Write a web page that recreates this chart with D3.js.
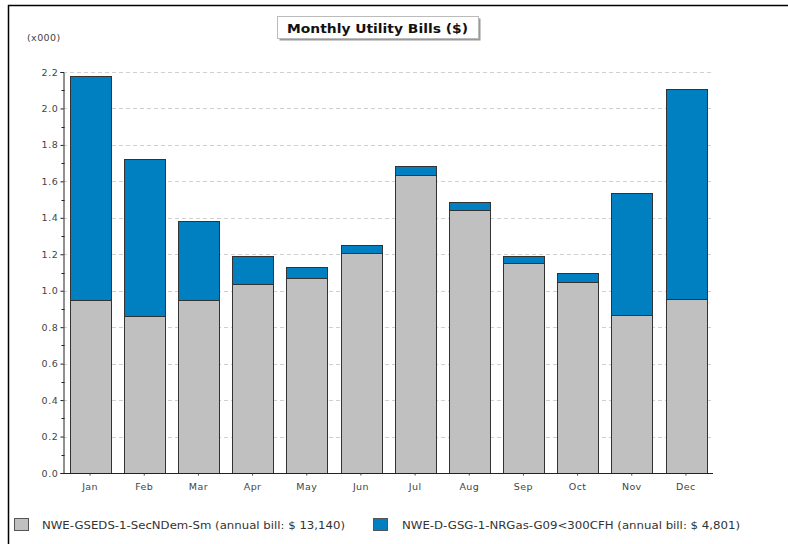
<!DOCTYPE html>
<html><head><meta charset="utf-8">
<script src="https://cdn.jsdelivr.net/npm/d3@7"></script>
<style>
html,body{margin:0;padding:0;background:#fff;}
svg{display:block;}
</style></head>
<body>
<svg id="chart" width="788" height="544"></svg>
<script>
const months = ["Jan","Feb","Mar","Apr","May","Jun","Jul","Aug","Sep","Oct","Nov","Dec"];
const electricValues = [0.948,0.862,0.948,1.036,1.071,1.208,1.634,1.445,1.151,1.047,0.866,0.954];
const gasValues      = [1.232,0.859,0.437,0.157,0.058,0.044,0.049,0.044,0.042,0.053,0.671,1.151];
const seriesNames = ["NWE-GSEDS-1-SecNDem-Sm (annual bill: $ 13,140)",
                     "NWE-D-GSG-1-NRGas-G09<300CFH (annual bill: $ 4,801)"];
const seriesColors = ["#c0c0c0","#0080c0"];
const yTicks = [0.0,0.2,0.4,0.6,0.8,1.0,1.2,1.4,1.6,1.8,2.0,2.2];
const yMinorTicks = [0.1,0.3,0.5,0.7,0.9,1.1,1.3,1.5,1.7,1.9,2.1];
const titleText = "Monthly Utility Bills ($)";
const unitText = "(x000)";

const svg = d3.select("#chart");
const M = {left:63, right:713, top:72, bottom:473};

// outer frame
svg.append("line").attr("x1",8).attr("x2",788).attr("y1",5.5).attr("y2",5.5).attr("stroke","#000").attr("stroke-width",1.5);
svg.append("line").attr("x1",8.5).attr("x2",8.5).attr("y1",5).attr("y2",544).attr("stroke","#000").attr("stroke-width",1.5);

const x = d3.scaleBand().domain(months).range([M.left, M.right]).paddingInner(0.25).paddingOuter(0.125);
const y = d3.scaleLinear().domain([0,2.2]).range([M.bottom, M.top]);

// grid
svg.append("g").selectAll("line").data(yTicks.filter(d=>d>0)).join("line")
  .attr("x1",M.left).attr("x2",M.right)
  .attr("y1",d=>Math.round(y(d))+0.5).attr("y2",d=>Math.round(y(d))+0.5)
  .attr("stroke","#d0d0d0").attr("stroke-dasharray","4,3");

// stacked data
const data = months.map((m,i)=>({month:m, e:electricValues[i], g:gasValues[i]}));
const stack = d3.stack().keys(["e","g"])(data);

const bars = svg.append("g");
stack.forEach((layer,li)=>{
  bars.selectAll(null).data(layer).join("rect")
    .attr("x",d=>Math.round(x(d.data.month))+0.5)
    .attr("width",Math.round(x.bandwidth()))
    .attr("y",d=>Math.round(y(d[1]))+0.5)
    .attr("height",d=>Math.max(0,Math.round(y(d[0]))-Math.round(y(d[1]))))
    .attr("fill",seriesColors[li])
    .attr("stroke","#333").attr("stroke-width",1);
});

// y axis
const yAxis = d3.axisLeft(y).tickValues(yTicks).tickFormat(d3.format(".1f")).tickSize(3).tickPadding(2);
const gy = svg.append("g").attr("transform",`translate(${M.left+0.5},0)`).call(yAxis);
gy.select(".domain").attr("stroke","#222");
gy.selectAll(".tick line").attr("stroke","#222");
gy.selectAll("text").attr("font-family","DejaVu Sans").attr("font-size","9.5px").attr("fill","#444")
  .attr("letter-spacing","0.6px");
svg.append("g").selectAll("line").data(yMinorTicks).join("line")
  .attr("x1",M.left-1.5).attr("x2",M.left+1.5)
  .attr("y1",d=>Math.round(y(d))+0.5).attr("y2",d=>Math.round(y(d))+0.5)
  .attr("stroke","#222");

// x axis
const xAxis = d3.axisBottom(x).tickSize(2).tickPadding(8);
const gx = svg.append("g").attr("transform",`translate(0,${M.bottom+0.5})`).call(xAxis);
gx.select(".domain").attr("stroke","#222").attr("d",`M${M.left},0H${M.right}`);
gx.selectAll(".tick line").attr("stroke","#444");
gx.selectAll("text").attr("font-family","DejaVu Sans").attr("font-size","9.5px").attr("fill","#444")
  .attr("letter-spacing","0.4px");

// unit label
svg.append("text").attr("x",27).attr("y",41).text(unitText)
  .attr("font-family","DejaVu Sans").attr("font-size","9.5px").attr("fill","#444").attr("letter-spacing","0.4px");

// title
const tg = svg.append("g");
tg.append("rect").attr("x",279.5).attr("y",18.5).attr("width",201).attr("height",22).attr("fill","#999");
tg.append("rect").attr("x",277.5).attr("y",16.5).attr("width",201).attr("height",22).attr("fill","#fff").attr("stroke","#bbb");
tg.append("text").attr("x",287).attr("y",32.5).text(titleText)
  .attr("font-family","DejaVu Sans").attr("font-weight","bold").attr("font-size","13px").attr("fill","#111")
  .attr("textLength",181).attr("lengthAdjust","spacingAndGlyphs");

// legend
const legendX = [14, 373];
const legendTextX = [42, 402];
const legendTextW = [303, 338];
seriesNames.forEach((n,i)=>{
  svg.append("rect").attr("x",legendX[i]+0.5).attr("y",518.5).attr("width",14).attr("height",12)
    .attr("fill",seriesColors[i]).attr("stroke","#555");
  svg.append("text").attr("x",legendTextX[i]).attr("y",529).text(n)
    .attr("font-family","DejaVu Sans").attr("font-size","10px").attr("fill","#333")
    .attr("textLength",legendTextW[i]).attr("lengthAdjust","spacingAndGlyphs");
});
</script>
</body></html>
